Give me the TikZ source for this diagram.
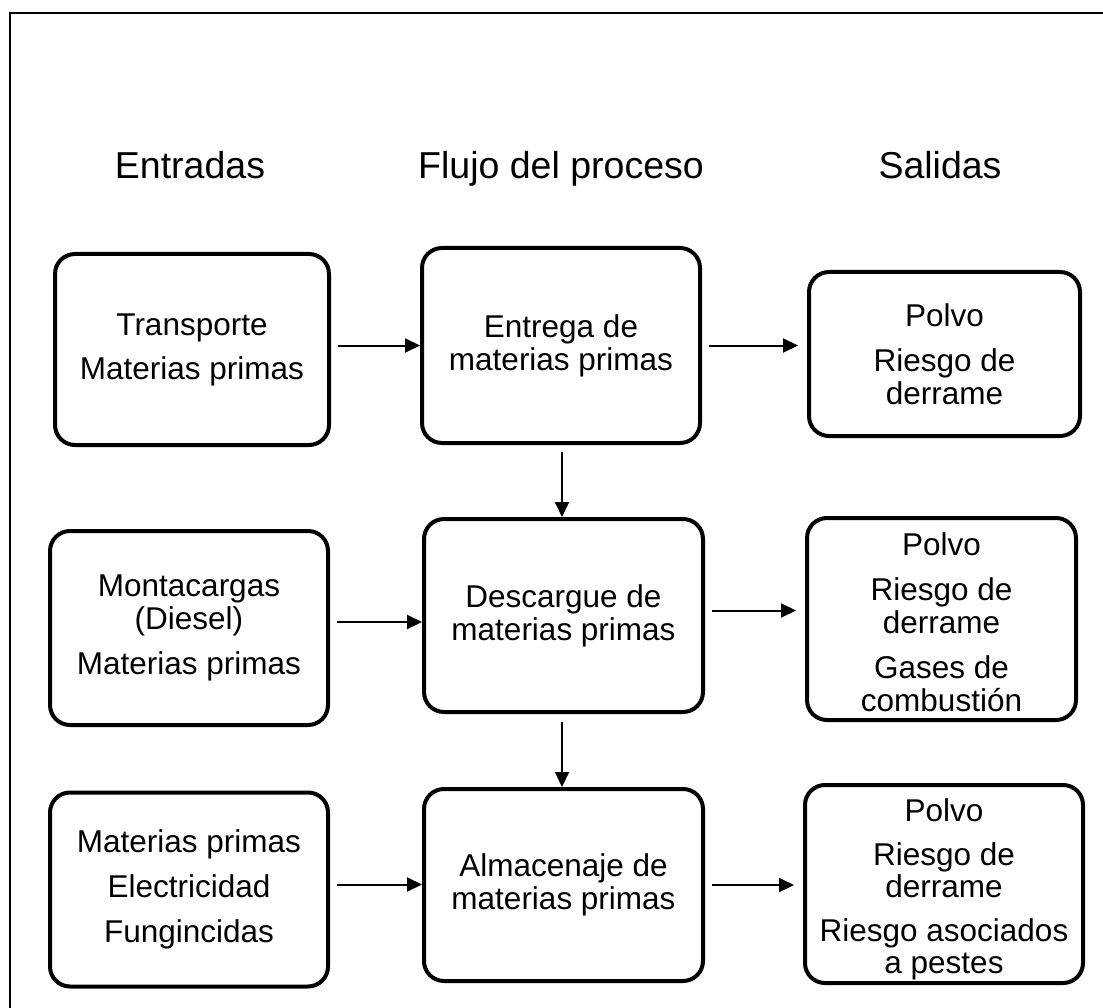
\documentclass[tikz,border=0pt]{standalone}
\usepackage{fontspec}
\setmainfont{Liberation Sans}
\usetikzlibrary{arrows.meta}
\begin{document}
\begin{tikzpicture}[x=1pt,y=-1pt,
  txt/.style={align=center,font=\fontsize{31.5}{33}\selectfont,inner sep=0pt},
  box/.style={txt,draw=black,line width=4pt,rounded corners=20pt},
  hdr/.style={font=\fontsize{37.5}{42}\selectfont,anchor=base},
  arr/.style={line width=2pt,-{Triangle[length=15pt,width=14pt]}}]
\useasboundingbox (0,0) rectangle (1103,1008);
\draw[line width=1.6pt] (10,1020) -- (10,13) -- (1115,13);
% headers
\node[hdr] (h1) at (190,179) {Entradas};
\node[hdr] (h2) at (561,179) {Flujo del proceso};
\node[hdr] (h3) at (940,179) {Salidas};
% left column
\node[box,minimum width=274pt,minimum height=191pt] (L1) at (192,349.5)
  {Transporte\\[11pt]Materias primas};
\node[box,minimum width=278pt,minimum height=194pt] (L2) at (189,628)
  {Montacargas\\(Diesel)\\[12pt]Materias primas};
\node[box,minimum width=278pt,minimum height=194pt] (L3) at (189,889.5)
  {Materias primas\\[12pt]Electricidad\\[12pt]Fungincidas};
% middle column
\node[box,minimum width=278pt,minimum height=195pt] (M1) at (561,345.5)
  {Entrega de\\materias primas};
\node[box,minimum width=279pt,minimum height=193pt] (M2) at (563.5,615.5)
  {Descargue de\\materias primas};
\node[box,minimum width=279pt,minimum height=192pt] (M3) at (563.5,885)
  {Almacenaje de\\materias primas};
% right column
\node[box,minimum width=271pt,minimum height=164pt] (R1) at (944.5,354)
  {Polvo\\[12pt]Riesgo de\\derrame};
\node[box,minimum width=269pt,minimum height=202pt] (R2) at (941.5,619) {};
\node[txt] (R2t) at ([yshift=-3pt]R2.center)
  {Polvo\\[12pt]Riesgo de\\derrame\\[12pt]Gases de\\combusti\'on};
\node[box,minimum width=278pt,minimum height=198pt] (R3) at (944,884) {};
\node[txt,font=\fontsize{31.5}{32}\selectfont] (R3t) at ([yshift=-5pt]R3.center)
  {Polvo\\[12pt]Riesgo de\\derrame\\[12pt]Riesgo asociados\\a pestes};
% connectors
\draw[arr,shorten <=7pt] (L1.east |- M1.west) -- (M1.west);
\draw[arr,shorten <=7pt,shorten >=9pt] (M1.east) -- (M1.east -| R1.west);
\draw[arr,shorten <=7pt] ([yshift=6pt]L2.east) -- ([yshift=6pt]L2.east -| M2.west);
\draw[arr,shorten <=7pt,shorten >=9pt] ([yshift=5pt]M2.east) -- ([yshift=5pt]M2.east -| R2.west);
\draw[arr,shorten <=7pt] ([yshift=5pt]L3.east) -- ([yshift=5pt]L3.east -| M3.west);
\draw[arr,shorten <=7pt,shorten >=9pt] (M3.east) -- (M3.east -| R3.west);
\draw[arr,shorten <=7pt] ([xshift=1pt]M1.south) -- ([xshift=1pt]M1.south |- M2.north);
\draw[arr,shorten <=8pt] ([xshift=-1.5pt]M2.south) -- ([xshift=-1.5pt]M2.south |- M3.north);
\end{tikzpicture}
\end{document}
